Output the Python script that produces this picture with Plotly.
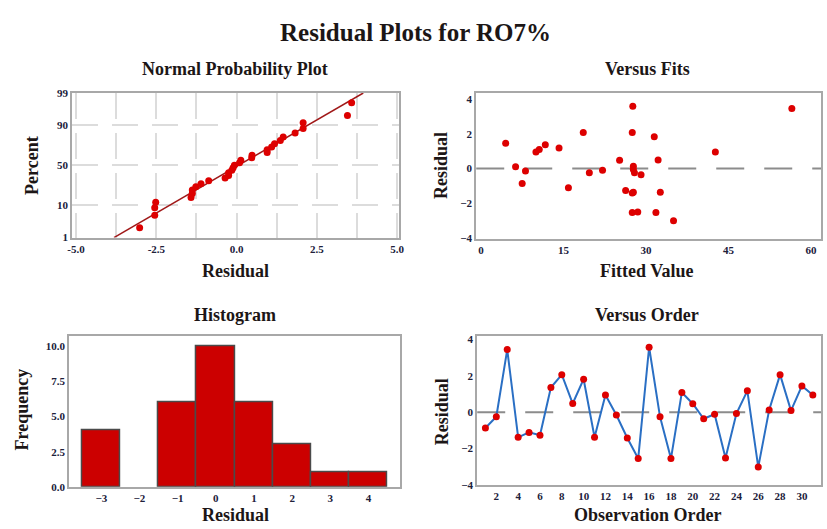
import numpy as np
import plotly.graph_objects as go
from statistics import NormalDist

# ---- data -------------------------------------------------------------
order = list(range(1, 32))
residuals = [-0.87, -0.25, 3.45, -1.38, -1.11, -1.27, 1.36, 2.07, 0.48, 1.82,
             -1.38, 0.95, -0.15, -1.42, -2.55, 3.58, -0.25, -2.55, 1.09, 0.47,
             -0.36, -0.11, -2.52, -0.07, 1.18, -3.02, 0.13, 2.07, 0.09, 1.45, 0.95]
fitted = [7.5, 19.7, 56.5, 27.7, 15.9, 26.3, 11.7, 18.6, 32.2, 31.5,
          32.6, 10.0, 8.1, 27.5, 27.5, 27.6, 27.9, 31.8, 10.6, 25.2,
          29.1, 22.1, 28.5, 27.7, 14.2, 35.0, 27.7, 27.5, 6.3, 4.5, 42.6]

pct_ticks = [1, 10, 50, 90, 99]
hist_edges = [-3.5, -2.5, -1.5, -0.5, 0.5, 1.5, 2.5, 3.5, 4.5]

# ---- derived quantities -----------------------------------------------
nd = NormalDist()
n = len(residuals)
res_sorted = sorted(residuals)
pct = [(i - 0.3) / (n + 0.4) for i in range(1, n + 1)]
z_pts = [nd.inv_cdf(p) for p in pct]
z_ticks = [nd.inv_cdf(p / 100) for p in pct_ticks]
mu = float(np.mean(residuals))
sd = float(np.std(residuals, ddof=1))
z_line = [z_ticks[0], z_ticks[-1]]
x_line = [mu + sd * z for z in z_line]

counts, _ = np.histogram(residuals, bins=hist_edges)
centers = [(a + b) / 2 for a, b in zip(hist_edges[:-1], hist_edges[1:])]
# empty bins get no outline
edge_widths = [1.5 if c > 0 else 0 for c in counts]

# ---- styling ----------------------------------------------------------
W, H = 827, 529
SERIF = "Liberation Serif"
TXT = "#1c1616"
TICK = "#20203a"
FRAME = "#a8a8a8"
RED = "#dd0000"


def px_x(a, b):
    return [a / W, b / W]


def px_y(top, bottom):
    return [1 - bottom / H, 1 - top / H]


def axis(domain, anchor, **kw):
    d = dict(domain=domain, anchor=anchor, showline=True, mirror=True,
             linecolor=FRAME, linewidth=2, zeroline=False, showgrid=False,
             ticks="", tickfont=dict(family=SERIF, size=11, color=TICK, weight="bold"))
    d.update(kw)
    return d


fig = go.Figure()

# Normal probability plot
fig.add_trace(go.Scatter(x=x_line, y=z_line, mode="lines", xaxis="x", yaxis="y",
                         line=dict(color="#a01818", width=1.5), showlegend=False))
fig.add_trace(go.Scatter(x=res_sorted, y=z_pts, mode="markers", xaxis="x", yaxis="y",
                         marker=dict(color=RED, size=7), showlegend=False))

# Versus fits
fig.add_trace(go.Scatter(x=fitted, y=residuals, mode="markers", xaxis="x2", yaxis="y2",
                         marker=dict(color=RED, size=7), showlegend=False))

# Histogram
fig.add_trace(go.Bar(x=centers, y=counts, width=1.0, xaxis="x3", yaxis="y3",
                     marker=dict(color="#cc0000", line=dict(color="#4a4a4a", width=edge_widths)),
                     showlegend=False))

# Versus order
fig.add_trace(go.Scatter(x=order, y=residuals, mode="lines+markers", xaxis="x4", yaxis="y4",
                         line=dict(color="#2a6fc4", width=2),
                         marker=dict(color=RED, size=7), showlegend=False))

grid_kw = dict(showgrid=True, gridcolor="#dcdcdc", gridwidth=1.5, griddash="26px,14px")

fig.update_layout(
    width=W, height=H,
    margin=dict(l=0, r=0, t=0, b=0),
    paper_bgcolor="white", plot_bgcolor="white",
    bargap=0,
    xaxis=axis(px_x(68, 399), "y", range=[-5.12, 5.06], tickvals=[-5, -2.5, 0, 2.5, 5],
               ticktext=["-5.0", "-2.5", "0.0", "2.5", "5.0"],
               minor=dict(dtick=1.25, tick0=-5, showgrid=True, gridcolor="#dcdcdc",
                          gridwidth=1.5, griddash="26px,14px"), **grid_kw),
    yaxis=axis(px_y(89, 237), "x", range=[z_ticks[0], z_ticks[-1]], tickvals=z_ticks,
               ticktext=[str(v) for v in pct_ticks], **grid_kw),
    xaxis2=axis(px_x(477, 826), "y2", range=[-0.85, 61.8], tickvals=[0, 15, 30, 45, 60]),
    yaxis2=axis(px_y(89, 238), "x2", range=[-4.05, 4.35], tickvals=[-4, -2, 0, 2, 4]),
    xaxis3=axis(px_x(65, 400), "y3", range=[-3.84, 4.83], tickvals=[-3, -2, -1, 0, 1, 2, 3, 4]),
    yaxis3=axis(px_y(338, 492), "x3", range=[0, 10.7], tickvals=[0, 2.5, 5, 7.5, 10],
                ticktext=["0.0", "2.5", "5.0", "7.5", "10.0"]),
    xaxis4=axis(px_x(478, 826), "y4", range=[0.25, 31.75], tickvals=list(range(2, 31, 2))),
    yaxis4=axis(px_y(338, 490), "x4", range=[-4.0, 4.18], tickvals=[-4, -2, 0, 2, 4]),
)

# dashed zero reference lines
for ax in ("2", "4"):
    fig.add_shape(type="line", xref=f"x{ax} domain", yref=f"y{ax}", x0=0, x1=1, y0=0, y1=0,
                  line=dict(color="#8c8c8c", width=2, dash="28px,20px"), layer="below")


def text(label, x, y, size, angle=0):
    fig.add_annotation(text=label, x=x / W, y=1 - y / H, xref="paper", yref="paper",
                       showarrow=False, textangle=angle, xanchor="center", yanchor="middle",
                       font=dict(family=SERIF, size=size, color=TXT, weight="bold"))


text("Residual Plots for RO7%", 416, 27, 25)
text("Normal Probability Plot", 233, 64, 18)
text("Versus Fits", 650, 64, 18)
text("Histogram", 233, 316, 18)
text("Versus Order", 650, 316, 18)

text("Residual", 233, 271, 18)
text("Percent", 28, 163, 18, -90)
text("Fitted Value", 650, 271, 18)
text("Residual", 442, 163, 18, -90)
text("Residual", 233, 521, 18)
text("Frequency", 17, 413, 18, -90)
text("Observation Order", 650, 521, 18)
text("Residual", 442, 415, 18, -90)

fig.write_html("out.html")
